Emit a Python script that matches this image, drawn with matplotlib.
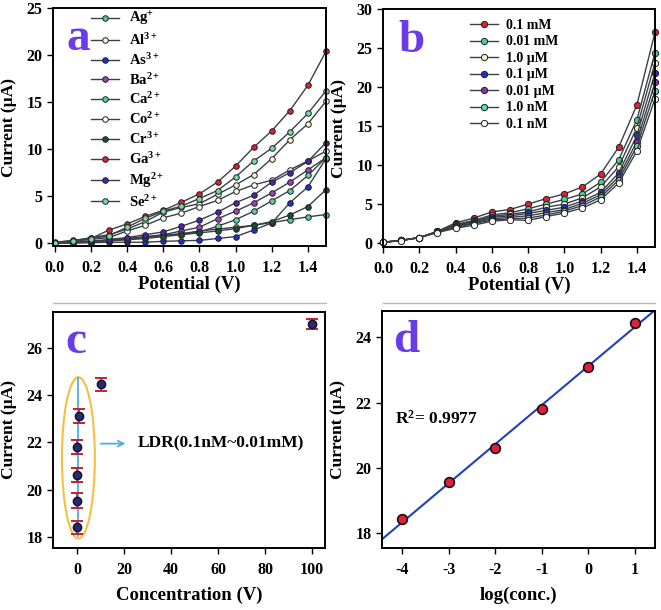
import numpy as np
import matplotlib
matplotlib.use('Agg')
import matplotlib.pyplot as plt
from matplotlib.patches import Ellipse
from matplotlib.lines import Line2D

plt.rcParams['font.family'] = ['Liberation Serif', 'DejaVu Serif']
plt.rcParams['font.weight'] = 'bold'
plt.rcParams['mathtext.fontset'] = 'custom'
plt.rcParams['mathtext.rm'] = 'Liberation Serif:bold'
plt.rcParams['mathtext.it'] = 'Liberation Serif:italic:bold'
plt.rcParams['mathtext.bf'] = 'Liberation Serif:bold'
plt.rcParams['axes.unicode_minus'] = False

# ---- data ----
potential = [0.0, 0.1, 0.2, 0.3, 0.4, 0.5, 0.6, 0.7, 0.8, 0.9, 1.0, 1.1, 1.2, 1.3, 1.4, 1.5]

# panel a: different ions
ion_labels = ['Ag$^{+}$', 'Al$^{3+}$', 'As$^{3+}$', 'Ba$^{2+}$', 'Ca$^{2+}$',
              'Co$^{2+}$', 'Cr$^{3+}$', 'Ga$^{3+}$', 'Mg$^{2+}$', 'Se$^{2+}$']
ion_colors = ['#50c8a0', '#f0f5c8', '#2030d0', '#a040c0', '#58d0a8',
              '#ffffff', '#1e5030', '#e02030', '#5020b0', '#78d8a8']
ag = [0.05, 0.1, 0.2, 0.3, 0.45, 0.65, 0.85, 1.0, 1.3, 1.5, 1.7, 1.9, 2.2, 2.5, 2.8, 3.05]
al = [0.05, 0.25, 0.6, 0.9, 1.5, 2.3, 3.3, 3.8, 4.2, 5.2, 6.2, 7.3, 9.0, 11.0, 12.7, 15.1]
as_ = [0.0, 0.0, 0.05, 0.1, 0.1, 0.1, 0.2, 0.25, 0.3, 0.5, 0.7, 1.4, 2.15, 4.3, 6.0, 9.0]
ba = [0.0, 0.1, 0.2, 0.3, 0.5, 0.7, 0.9, 1.3, 1.7, 2.6, 3.4, 4.3, 5.35, 6.5, 7.8, 9.1]
ca = [0.0, 0.1, 0.2, 0.3, 0.45, 0.6, 0.8, 1.0, 1.2, 1.8, 2.5, 3.4, 4.5, 5.6, 7.2, 9.1]
co = [0.05, 0.2, 0.4, 0.6, 1.3, 1.9, 2.7, 3.2, 3.9, 4.55, 5.5, 6.2, 6.7, 7.8, 8.75, 9.8]
cr = [0.0, 0.1, 0.15, 0.25, 0.35, 0.5, 0.7, 0.9, 1.1, 1.3, 1.55, 1.9, 2.3, 3.0, 3.9, 5.7]
ga = [0.1, 0.3, 0.5, 1.4, 2.05, 2.85, 3.5, 4.35, 5.25, 6.5, 8.2, 10.2, 11.95, 14.1, 16.8, 20.4]
mg = [0.0, 0.1, 0.2, 0.4, 0.6, 0.9, 1.2, 1.8, 2.45, 3.3, 4.3, 5.1, 6.5, 7.5, 8.7, 10.7]
se = [0.05, 0.25, 0.45, 0.8, 1.7, 2.65, 3.4, 3.95, 4.75, 5.6, 7.05, 8.75, 10.1, 11.85, 13.8, 16.2]
ion_currents = [ag, al, as_, ba, ca, co, cr, ga, mg, se]

# panel b: different concentrations
conc_labels = ['0.1 mM', '0.01 mM', '1.0 µM', '0.1 µM', '0.01 µM', '1.0 nM', '0.1 nM']
conc_colors = ['#e02030', '#50c89a', '#f0f5c8', '#2030d0', '#9030b0', '#60d8a8', '#ffffff']
c1 = [0.1, 0.35, 0.7, 1.5, 2.6, 3.2, 4.0, 4.3, 5.0, 5.7, 6.3, 7.2, 8.85, 12.3, 17.7, 27.0]
c2 = [0.1, 0.35, 0.7, 1.5, 2.4, 2.9, 3.6, 3.9, 4.4, 5.0, 5.6, 6.3, 7.8, 10.7, 15.8, 24.4]
c3 = [0.1, 0.35, 0.7, 1.45, 2.3, 2.8, 3.4, 3.7, 4.0, 4.6, 5.0, 5.8, 7.2, 9.8, 14.8, 23.1]
c4 = [0.1, 0.35, 0.7, 1.45, 2.2, 2.7, 3.3, 3.5, 3.8, 4.2, 4.6, 5.4, 6.5, 9.0, 13.8, 21.8]
c5 = [0.1, 0.35, 0.7, 1.4, 2.1, 2.6, 3.1, 3.3, 3.5, 3.9, 4.3, 5.1, 6.2, 8.5, 13.0, 20.6]
c6 = [0.1, 0.35, 0.7, 1.4, 2.0, 2.5, 2.95, 3.1, 3.2, 3.6, 4.1, 4.8, 5.9, 8.1, 12.4, 19.55]
c7 = [0.1, 0.3, 0.7, 1.35, 1.9, 2.3, 2.8, 3.0, 2.9, 3.4, 3.85, 4.5, 5.55, 7.7, 11.8, 18.5]
conc_currents = [c1, c2, c3, c4, c5, c6, c7]

# panel c / d: peak current vs concentration (µM)
conc_uM = [0.0001, 0.001, 0.01, 0.1, 1, 10, 100]
peak_current = [18.42, 19.55, 20.62, 21.8, 23.1, 24.45, 27.0]
peak_err = [0.28, 0.3, 0.3, 0.3, 0.3, 0.28, 0.22]
r2_text = 'R$^2$= 0.9977'

line_col = '#3a4048'
label_col = '#6a3ce6'
tick_fs = 11.5
xlab_fs = 13.5
ylab_fs = 12.5


def style_axes(ax, xlab_y):
    for s in ax.spines.values():
        s.set_linewidth(1.4)
        s.set_color('black')
    ax.tick_params(direction='out', length=4, width=1, labelsize=tick_fs,
                   top=False, right=False)
    ax.tick_params(axis='x', pad=6)
    for t in ax.get_xticklabels() + ax.get_yticklabels():
        t.set_fontweight('bold')
    ax.yaxis.set_label_coords(-0.132, 0.5)
    ax.xaxis.set_label_coords(0.5, xlab_y)


fig = plt.figure(figsize=(6.61, 6.1), dpi=100)

# ---------------- a ----------------
axa = fig.add_axes([0.0802, 0.5967, 0.413, 0.390])
for y, c, lab in zip(ion_currents, ion_colors, ion_labels):
    axa.plot(potential, y, '-o', color=line_col, lw=1, ms=4, mfc=c, mec='#202020',
             mew=0.7, label=lab, clip_on=False)
axa.set_xlim(-0.01, 1.5)
axa.set_ylim(-0.3, 25)
axa.set_xticks([0.0, 0.2, 0.4, 0.6, 0.8, 1.0, 1.2, 1.4])
axa.set_yticks([0, 5, 10, 15, 20, 25])
axa.set_xticklabels(['%.1f' % v for v in [0.0, 0.2, 0.4, 0.6, 0.8, 1.0, 1.2, 1.4]])
axa.set_xlabel('Potential (V)', fontsize=xlab_fs, fontweight='bold')
axa.set_ylabel('Current (µA)', fontsize=ylab_fs, fontweight='bold')
axa.legend(loc='upper left', bbox_to_anchor=(0.13, 1.005), frameon=False, fontsize=10.5,
           handlelength=1.9, handletextpad=0.7, labelspacing=0.27, borderpad=0.2,
           borderaxespad=0)
axa.text(0.05, 0.823, 'a', transform=axa.transAxes, fontsize=34, fontweight='bold',
         color=label_col, ha='left', va='baseline')
style_axes(axa, -0.125)

# ---------------- b ----------------
axb = fig.add_axes([0.5794, 0.5951, 0.4115, 0.390])
for y, c, lab in zip(conc_currents, conc_colors, conc_labels):
    axb.plot(potential, y, '-o', color=line_col, lw=1, ms=4.5, mfc=c, mec='#202020',
             mew=0.7, label=lab, clip_on=False)
axb.set_xlim(0, 1.5)
axb.set_ylim(-0.5, 30)
axb.set_xticks([0.0, 0.2, 0.4, 0.6, 0.8, 1.0, 1.2, 1.4])
axb.set_xticklabels(['%.1f' % v for v in [0.0, 0.2, 0.4, 0.6, 0.8, 1.0, 1.2, 1.4]])
axb.set_yticks([0, 5, 10, 15, 20, 25, 30])
axb.set_xlabel('Potential (V)', fontsize=xlab_fs, fontweight='bold')
axb.set_ylabel('Current (µA)', fontsize=ylab_fs, fontweight='bold')
axb.legend(loc='upper left', bbox_to_anchor=(0.31, 0.97), frameon=False, fontsize=10,
           handlelength=2.0, handletextpad=0.6, labelspacing=0.25, borderpad=0.2,
           borderaxespad=0)
axb.text(0.055, 0.819, 'b', transform=axb.transAxes, fontsize=34, fontweight='bold',
         color=label_col, ha='left', va='baseline')
style_axes(axb, -0.125)

# ---------------- c ----------------
axc = fig.add_axes([0.0802, 0.1016, 0.4115, 0.387])
axc.add_patch(Ellipse((0.6, 21.35), 14, 6.8, fill=False, ec='#f5c040', lw=1.5))
axc.plot([0.4, 0.4], [18.05, 24.7], color='#4fb0e0', lw=1.3)
axc.errorbar(conc_uM, peak_current, yerr=peak_err, fmt='o', ms=6, mfc='#2a2a70',
             mec='#101030', ecolor='#c8202a', elinewidth=1.2, capsize=4, capthick=1.4)
axc.annotate('', xy=(21.8, 21.95), xytext=(9, 21.95),
             arrowprops=dict(arrowstyle='->', color='#4fb0e0', lw=1.3))
axc.text(26, 21.95, 'LDR(0.1nM~0.01mM)', fontsize=12.5, fontweight='bold', va='center')
axc.set_xlim(-10.2, 105.5)
axc.set_ylim(17.55, 27.5)
axc.set_xticks([0, 20, 40, 60, 80, 100])
axc.set_yticks([18, 20, 22, 24, 26])
axc.set_xlabel('Concentration (V)', fontsize=xlab_fs, fontweight='bold')
axc.set_ylabel('Current (µA)', fontsize=ylab_fs, fontweight='bold')
axc.text(0.044, 0.826, 'c', transform=axc.transAxes, fontsize=34, fontweight='bold',
         color=label_col, ha='left', va='baseline')
style_axes(axc, -0.165)

# ---------------- d ----------------
axd = fig.add_axes([0.5779, 0.1016, 0.413, 0.388])
logc = np.log10(conc_uM[:6])
fit = np.polyfit(logc, peak_current[:6], 1)
xx = np.array([-4.43, 1.43])
axd.plot(xx, np.polyval(fit, xx), color='#2040c0', lw=1.5)
axd.plot(logc, peak_current[:6], 'o', ms=7, mfc='#e0203a', mec='#111111', mew=1.2)
axd.text(-4.15, 21.5, r2_text, fontsize=12.5, fontweight='bold', va='center')
axd.set_xlim(-4.43, 1.43)
axd.set_ylim(17.54, 24.8)
axd.set_xticks([-4, -3, -2, -1, 0, 1])
axd.set_yticks([18, 20, 22, 24])
axd.set_xlabel('log(conc.)', fontsize=xlab_fs, fontweight='bold')
axd.set_ylabel('Current (µA)', fontsize=ylab_fs, fontweight='bold')
axd.text(0.04, 0.827, 'd', transform=axd.transAxes, fontsize=34, fontweight='bold',
         color=label_col, ha='left', va='baseline')
style_axes(axd, -0.165)

# thin grey separator lines under the top panels
fig.add_artist(Line2D([53 / 661, 326 / 661], [0.503, 0.503], color='#b8b8b8', lw=1))
fig.add_artist(Line2D([383 / 661, 655 / 661], [0.503, 0.503], color='#b8b8b8', lw=1))

fig.savefig('out.png', dpi=100)
